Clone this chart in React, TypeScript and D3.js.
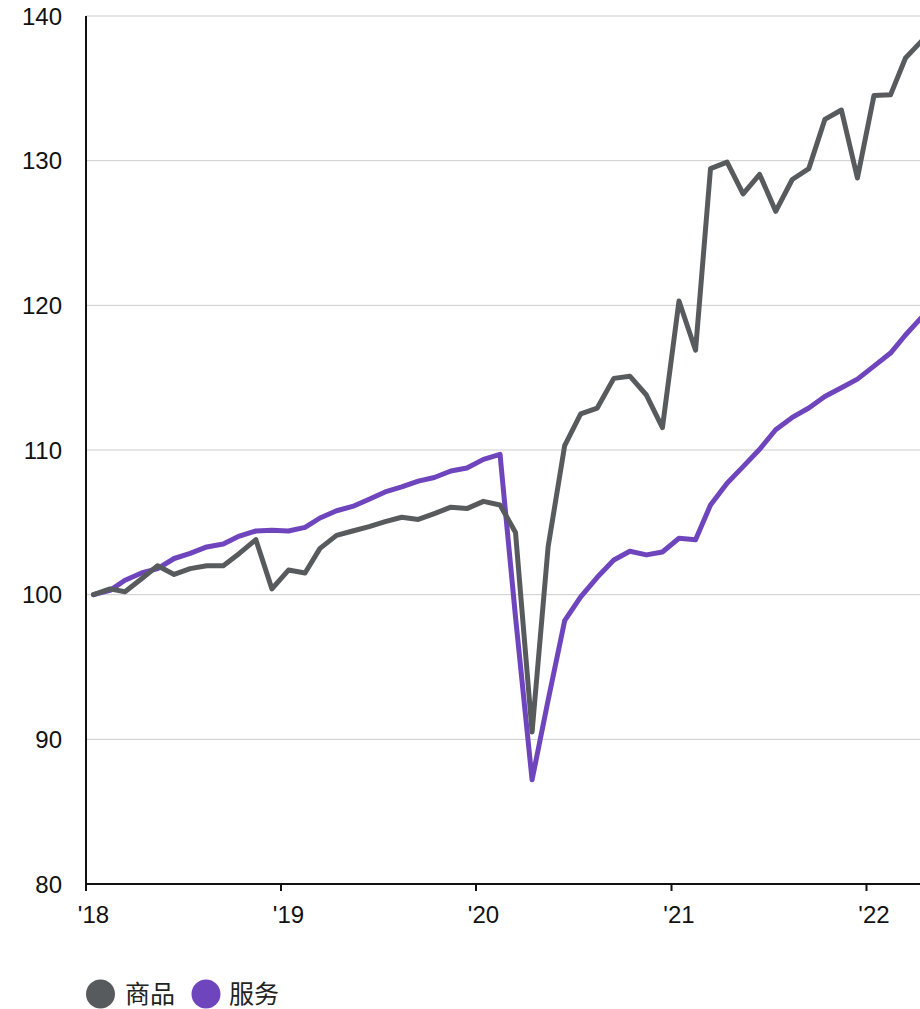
import React from "react";
import * as d3 from "d3";

const startYear = 2018;
const goods = [
  100.0, 100.4, 100.2, 101.1, 102.0, 101.4, 101.8, 102.0, 102.0, 102.85, 103.8, 100.4,
  101.7, 101.5, 103.2, 104.1, 104.4, 104.7, 105.05, 105.35, 105.2, 105.6, 106.05, 105.95,
  106.45, 106.2, 104.3, 90.5, 103.3, 110.3, 112.5, 112.9, 114.95, 115.1, 113.8, 111.55,
  120.3, 116.9, 129.45, 129.9, 127.7, 129.05, 126.5, 128.7, 129.45, 132.85, 133.5, 128.8,
  134.5, 134.55, 137.1, 138.3,
];
const services = [
  100.0, 100.3, 101.0, 101.5, 101.8, 102.5, 102.85, 103.3, 103.5, 104.05, 104.4, 104.45,
  104.4, 104.65, 105.3, 105.8, 106.1, 106.6, 107.1, 107.45, 107.85, 108.1, 108.55, 108.75,
  109.35, 109.7, 98.45, 87.2, 92.7, 98.2, 99.85, 101.2, 102.4, 103.0, 102.75, 102.95,
  103.9, 103.8, 106.2, 107.7, 108.85, 110.05, 111.4, 112.25, 112.9, 113.7, 114.3, 114.9,
  115.8, 116.7, 117.95, 119.2,
];
const yTicks = [80, 90, 100, 110, 120, 130, 140];
const xTickYears = [2018, 2019, 2020, 2021, 2022];
const xTickLabels = ["'18", "'19", "'20", "'21", "'22"];
const seriesNames = ["商品", "服务"];
const seriesColors = ["#585b5e", "#6f45bd"];

const W = 920;
const H = 1009;
const FONT = "'Liberation Sans', Arial, 'Noto Sans CJK SC', sans-serif";

export default function App() {
  const x = d3
    .scaleTime()
    .domain([new Date(2018, 0, 1), new Date(2022, 0, 1)])
    .range([86, 866.5]);
  const y = d3.scaleLinear().domain([80, 140]).range([884, 16]);

  const dateOf = (i: number) => new Date(startYear + Math.floor(i / 12), i % 12, 15);
  const line = d3
    .line<number>()
    .x((_, i) => x(dateOf(i)))
    .y((v) => y(v));

  const data = [services, goods];
  const colors = [seriesColors[1], seriesColors[0]];

  return (
    <svg
      width={W}
      height={H}
      style={{ position: "absolute", left: 0, top: 0, display: "block" }}
      fontFamily={FONT}
    >
      <rect x={0} y={0} width={W} height={H} fill="#fff" />
      {yTicks
        .filter((t) => t !== 80)
        .map((t) => (
          <line key={t} x1={86} x2={W} y1={y(t)} y2={y(t)} stroke="#cccccc" strokeWidth={1} />
        ))}
      {yTicks.map((t) => (
        <text key={"yl" + t} x={62} y={y(t) + 8.5} textAnchor="end" fontSize={24} fill="#111">
          {t}
        </text>
      ))}
      {data.map((d, k) => (
        <path
          key={k}
          d={line(d) || ""}
          fill="none"
          stroke={colors[k]}
          strokeWidth={5}
          strokeLinejoin="round"
          strokeLinecap="round"
        />
      ))}
      <line x1={86} x2={86} y1={16} y2={885} stroke="#111" strokeWidth={2} />
      <line x1={85} x2={W} y1={884} y2={884} stroke="#111" strokeWidth={2} />
      {xTickYears.map((yr, i) => (
        <g key={yr}>
          <line
            x1={x(new Date(yr, 0, 1))}
            x2={x(new Date(yr, 0, 1))}
            y1={884}
            y2={891}
            stroke="#111"
            strokeWidth={2}
          />
          <text
            x={x(new Date(yr, 0, 15))}
            y={923}
            textAnchor="middle"
            fontSize={24}
            fill="#111"
          >
            {xTickLabels[i]}
          </text>
        </g>
      ))}
      <g>
        <circle cx={100.5} cy={994} r={14.5} fill={seriesColors[0]} />
        <text x={125} y={1003} fontSize={25} fill="#222">
          {seriesNames[0]}
        </text>
        <circle cx={206} cy={994} r={14.5} fill={seriesColors[1]} />
        <text x={229} y={1003} fontSize={25} fill="#222">
          {seriesNames[1]}
        </text>
      </g>
    </svg>
  );
}
